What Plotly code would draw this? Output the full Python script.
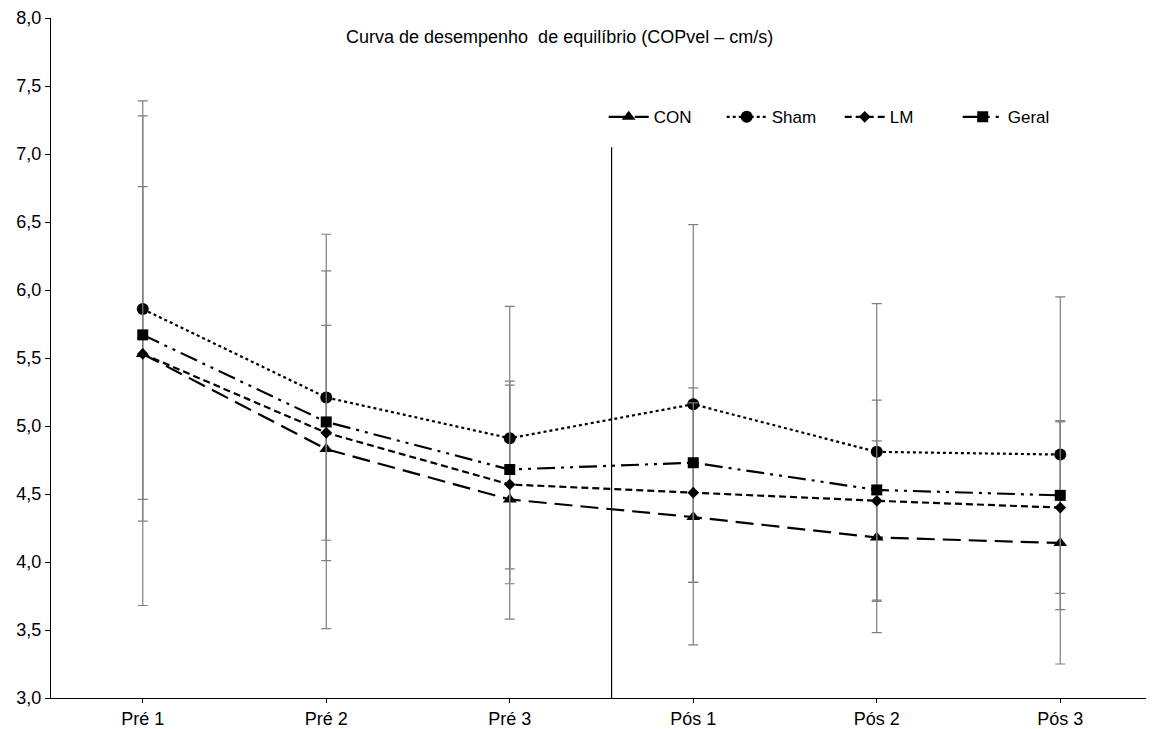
import plotly.graph_objects as go

categories = ["Pré 1", "Pré 2", "Pré 3", "Pós 1", "Pós 2", "Pós 3"]

con_mean = [5.53, 4.83, 4.46, 4.33, 4.18, 4.14]
con_err_up = [1.75, 1.31, 0.87, 0.95, 0.71, 0.90]
con_err_down = [1.85, 1.32, 0.88, 0.94, 0.70, 0.89]

sham_mean = [5.86, 5.21, 4.91, 5.16, 4.81, 4.79]
sham_err_up = [1.53, 1.20, 0.97, 1.32, 1.09, 1.16]
sham_err_down = [1.56, 1.20, 0.96, 1.31, 1.09, 1.14]

lm_mean = [5.53, 4.95, 4.57, 4.51, 4.45, 4.40]
lm_err_up = [1.23, 0.79, 0.73, 0.66, 0.74, 0.63]
lm_err_down = [1.07, 0.79, 0.73, 0.66, 0.74, 0.63]

geral_mean = [5.67, 5.03, 4.68, 4.73, 4.53, 4.49]

y_ticks = [3.0, 3.5, 4.0, 4.5, 5.0, 5.5, 6.0, 6.5, 7.0, 7.5, 8.0]

ERR_COLOR = "#7f7f7f"


def err(up, down):
    return dict(type="data", symmetric=False, array=up, arrayminus=down,
                color=ERR_COLOR, thickness=1.2, width=5)


fig = go.Figure()
fig.add_trace(go.Scatter(
    x=categories, y=con_mean, name="CON", mode="lines+markers",
    line=dict(color="black", width=2.2, dash="18px,8px"),
    marker=dict(symbol="triangle-up", size=12, color="black"),
    error_y=err(con_err_up, con_err_down)))
fig.add_trace(go.Scatter(
    x=categories, y=sham_mean, name="Sham", mode="lines+markers",
    line=dict(color="black", width=2.2, dash="dot"),
    marker=dict(symbol="circle", size=12, color="black"),
    error_y=err(sham_err_up, sham_err_down)))
fig.add_trace(go.Scatter(
    x=categories, y=lm_mean, name="LM", mode="lines+markers",
    line=dict(color="black", width=2.2, dash="7px,4px"),
    marker=dict(symbol="diamond", size=9, color="black"),
    error_y=err(lm_err_up, lm_err_down)))
fig.add_trace(go.Scatter(
    x=categories, y=geral_mean, name="Geral", mode="lines+markers",
    line=dict(color="black", width=2.2, dash="18px,6px,3px,6px,3px,6px"),
    marker=dict(symbol="square", size=11, color="black")))

fig.add_shape(type="line", xref="x", yref="y", x0=2.555, x1=2.555, y0=3.0, y1=7.05,
              line=dict(color="black", width=1.2))

fig.update_layout(
    width=1154, height=729,
    paper_bgcolor="white", plot_bgcolor="white",
    margin=dict(l=43, r=10, t=10, b=39, autoexpand=False),
    separators=",.",
    font=dict(family="Arial, Liberation Sans, sans-serif", size=18, color="black"),
    showlegend=True,
    legend=dict(orientation="h", x=0.502, y=0.854, xanchor="left", yanchor="middle",
                bgcolor="rgba(0,0,0,0)", font=dict(size=17),
                itemwidth=40, tracegroupgap=0, entrywidth=63),
    annotations=[dict(text="Curva de desempenho  de equilíbrio (COPvel – cm/s)",
                      xref="paper", yref="paper", x=0.462, y=0.972,
                      xanchor="center", yanchor="middle", showarrow=False,
                      font=dict(size=18))],
)
fig.update_xaxes(type="category", range=[-0.5, 5.5], showline=True, linecolor="black",
                 linewidth=1.2, ticks="outside", ticklen=4, tickcolor="black",
                 showgrid=False, zeroline=False, tickfont=dict(size=18))
fig.update_yaxes(range=[3.0, 8.0], tickvals=y_ticks, tickformat=".1f", showline=True,
                 linecolor="black", linewidth=1.2, ticks="outside", ticklen=5,
                 tickcolor="black", showgrid=False, zeroline=False,
                 tickfont=dict(size=18))

fig.write_html("out.html")
